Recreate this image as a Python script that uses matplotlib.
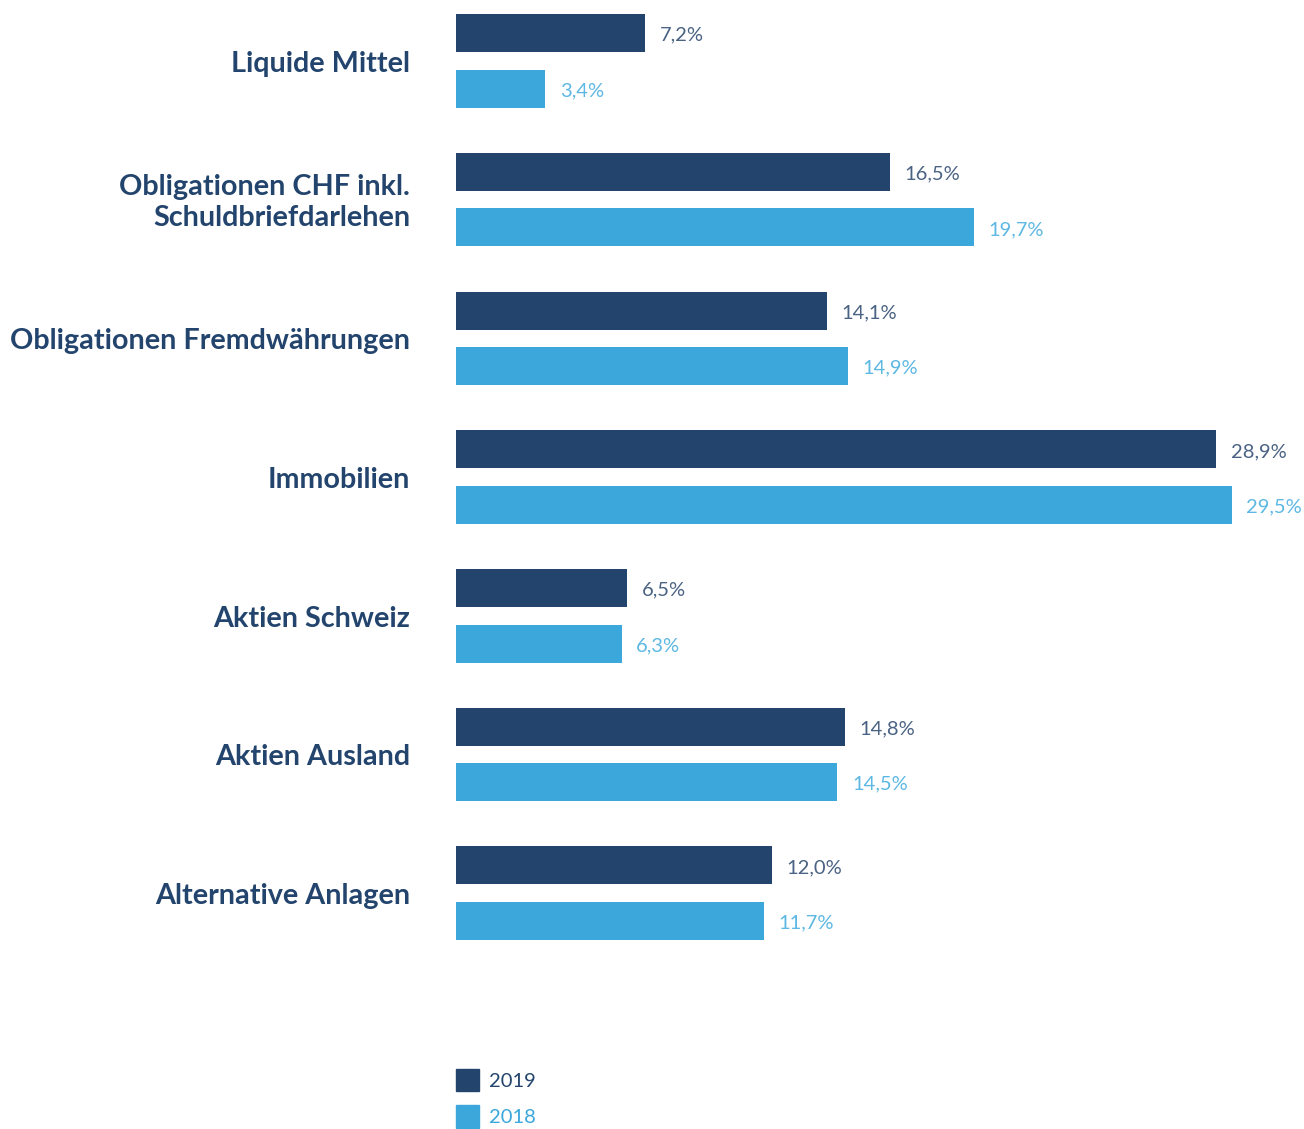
import numpy as np
import matplotlib.pyplot as plt
from matplotlib.patches import Patch

# asset allocation by category, in percent
categories = ['Liquide Mittel', 'Obligationen CHF inkl.\nSchuldbriefdarlehen',
              'Obligationen Fremdwährungen', 'Immobilien', 'Aktien Schweiz',
              'Aktien Ausland', 'Alternative Anlagen']
share_2019 = [7.2, 16.5, 14.1, 28.9, 6.5, 14.8, 12.0]
share_2018 = [3.4, 19.7, 14.9, 29.5, 6.3, 14.5, 11.7]
years = ['2019', '2018']

dark = '#23446d'
light = '#3ba7db'

plt.rcParams['font.family'] = ['Lato', 'DejaVu Sans']

fig = plt.figure(figsize=(13.04, 11.29), dpi=100)
ax = fig.add_axes([456 / 1304, 0, 1 - 456 / 1304, 1])

y = np.arange(len(categories))
off = 0.2
h = 0.274
ax.barh(y - off, share_2019, height=h, color=dark)
ax.barh(y + off, share_2018, height=h, color=light)

# value labels next to the bar ends, decimal comma
for yy, v in zip(y - off, share_2019):
    ax.annotate(f'{v:.1f}%'.replace('.', ','), (v, yy), xytext=(10.5, -1.5),
                textcoords='offset points', va='center', ha='left',
                fontsize=14.5, color='#4a6283')
for yy, v in zip(y + off, share_2018):
    ax.annotate(f'{v:.1f}%'.replace('.', ','), (v, yy), xytext=(10.5, -1.5),
                textcoords='offset points', va='center', ha='left',
                fontsize=14.5, color='#5db8e3')

# category names right-aligned left of the bars
for yy, name in zip(y, categories):
    ax.annotate(name, (0, yy), xytext=(-33, -2), textcoords='offset points',
                va='center', ha='right', fontsize=20.7, fontweight='bold',
                color=dark, linespacing=1.22, annotation_clip=False)

ax.set_xlim(0, (1304 - 456) / 26.3)
ax.set_ylim(7.70, -0.44)
ax.axis('off')

handles = [Patch(color=dark), Patch(color=light)]
leg = fig.legend(handles, years, loc='upper left',
                 bbox_to_anchor=(456 / 1304, 1 - 1069 / 1129), frameon=False,
                 handlelength=1.15, handleheight=1.32, handletextpad=0.5,
                 labelspacing=0.7, fontsize=14.5, borderaxespad=0, borderpad=0)
for t, c in zip(leg.get_texts(), [dark, light]):
    t.set_color(c)

fig.savefig('out.png', dpi=100)
